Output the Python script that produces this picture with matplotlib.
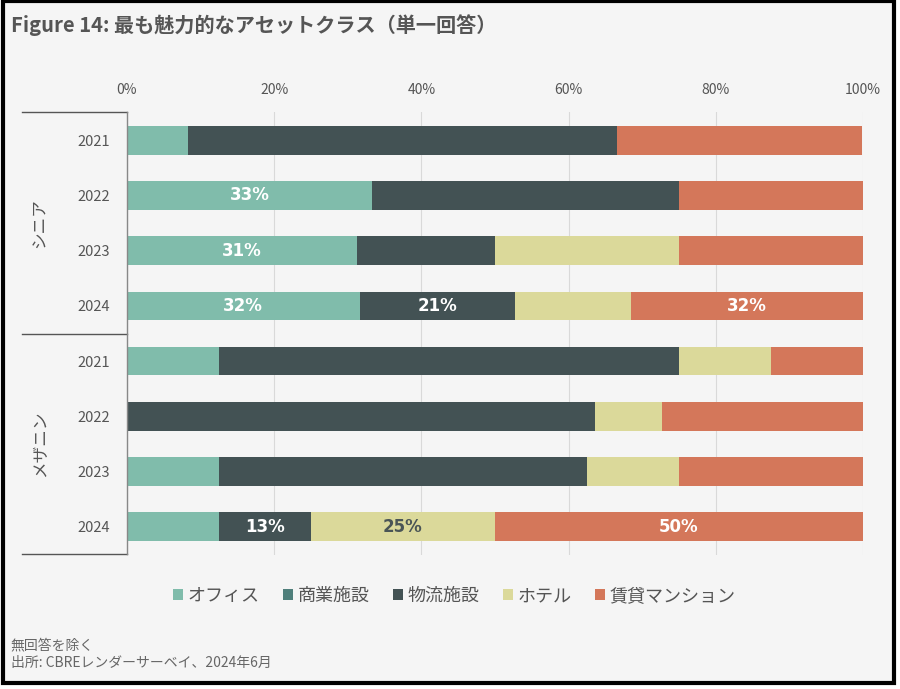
import numpy as np
import matplotlib
matplotlib.use('Agg')
import matplotlib.pyplot as plt
from matplotlib.patches import Rectangle
from matplotlib.transforms import blended_transform_factory

plt.rcParams['font.family'] = ['Noto Sans CJK JP', 'DejaVu Sans']

# --------------------------------------
# data (share of answers, %)
# --------------------------------------
groups = ['シニア', 'メザニン']
years = ['2021', '2022', '2023', '2024', '2021', '2022', '2023', '2024']
categories = ['オフィス', '商業施設', '物流施設', 'ホテル', '賃貸マンション']

office = [8.3, 33.3, 31.25, 31.6, 12.5, 0.0, 12.5, 12.5]
commercial = [0, 0, 0, 0, 0, 0, 0, 0]
logistics = [58.3, 41.7, 18.75, 21.1, 62.5, 63.6, 50.0, 12.5]
hotel = [0.0, 0.0, 25.0, 15.8, 12.5, 9.1, 12.5, 25.0]
rental = [33.3, 25.0, 25.0, 31.6, 12.5, 27.3, 25.0, 50.0]

office_labels = ['', '33%', '31%', '32%', '', '', '', '']
commercial_labels = ['', '', '', '', '', '', '', '']
logistics_labels = ['', '', '', '21%', '', '', '', '13%']
hotel_labels = ['', '', '', '', '', '', '', '25%']
rental_labels = ['', '', '', '32%', '', '', '', '50%']

colors = ['#80bcab', '#4f7f7b', '#435254', '#dbd99a', '#d4775a']
label_colors = ['white', 'white', 'white', '#4a5556', 'white']

# --------------------------------------
# figure
# --------------------------------------
fig = plt.figure(figsize=(9, 6.89), dpi=100, facecolor='white')
fig.add_artist(Rectangle((0.003, 0.009), 0.990, 0.989, transform=fig.transFigure,
                         facecolor='#f5f5f5', edgecolor='black', linewidth=3, zorder=0))

ax = fig.add_axes([0.1411, 0.1945, 0.8178, 0.6429])
ax.set_facecolor('#f5f5f5')
ax.patch.set_alpha(0)

y = np.arange(len(years))
series = [office, commercial, logistics, hotel, rental]
labels = [office_labels, commercial_labels, logistics_labels, hotel_labels, rental_labels]
left = np.zeros(len(years))
for name, vals, col, labs, lc in zip(categories, series, colors, labels, label_colors):
    bars = ax.barh(y, vals, left=left, height=0.52, color=col, label=name, zorder=3)
    ax.bar_label(bars, labels=labs, label_type='center', color=lc,
                 fontsize=12, fontweight='bold', family=['DejaVu Sans'])
    left = left + np.array(vals)

ax.set_xlim(0, 100)
ax.set_ylim(7.51, -0.51)
ax.set_xticks(np.arange(0, 101, 20))
ax.set_xticklabels([f'{v}%' for v in range(0, 101, 20)])
ax.xaxis.tick_top()
ax.set_yticks(y)
ax.set_yticklabels(years)
ax.tick_params(axis='x', length=0, pad=11, labelsize=10, labelcolor='#555555')
ax.tick_params(axis='y', length=0, pad=12, labelsize=10.5, labelcolor='#555555')
ax.grid(axis='x', color='#d9d9d9', linewidth=0.8, zorder=0)
for s in ax.spines.values():
    s.set_visible(False)

# group bracket on the left
tr = blended_transform_factory(ax.transAxes, ax.transData)
for yy in [-0.51, 3.5, 7.49]:
    ax.plot([-0.143, 0], [yy, yy], transform=tr, color='#555555', lw=1, clip_on=False)
ax.plot([0, 0], [-0.51, 7.49], transform=tr, color='#888888', lw=1, clip_on=False, zorder=4)
for g, yc in zip(groups, [1.5, 5.5]):
    ax.text(-0.118, yc, g, transform=tr, rotation=90, ha='center', va='center',
            fontsize=12, color='#555555')

# title, legend, footer
fig.text(0.012, 1 - 25 / 689, 'Figure 14: 最も魅力的なアセットクラス（単一回答）',
         fontsize=14.5, fontweight='bold', color='#555555', va='center')

fig.legend(loc='center', bbox_to_anchor=(0.505, 1 - 596 / 689), ncol=5, frameon=False,
           fontsize=13, labelcolor='#555555', handlelength=0.55, handleheight=0.55,
           handletextpad=0.25, columnspacing=1.3)

fig.text(0.012, 1 - 645 / 689, '無回答を除く', fontsize=10, color='#666666', va='center')
fig.text(0.012, 1 - 663 / 689, '出所: CBREレンダーサーベイ、2024年6月', fontsize=10,
         color='#666666', va='center')

fig.savefig('out.png', dpi=100, facecolor=fig.get_facecolor())
